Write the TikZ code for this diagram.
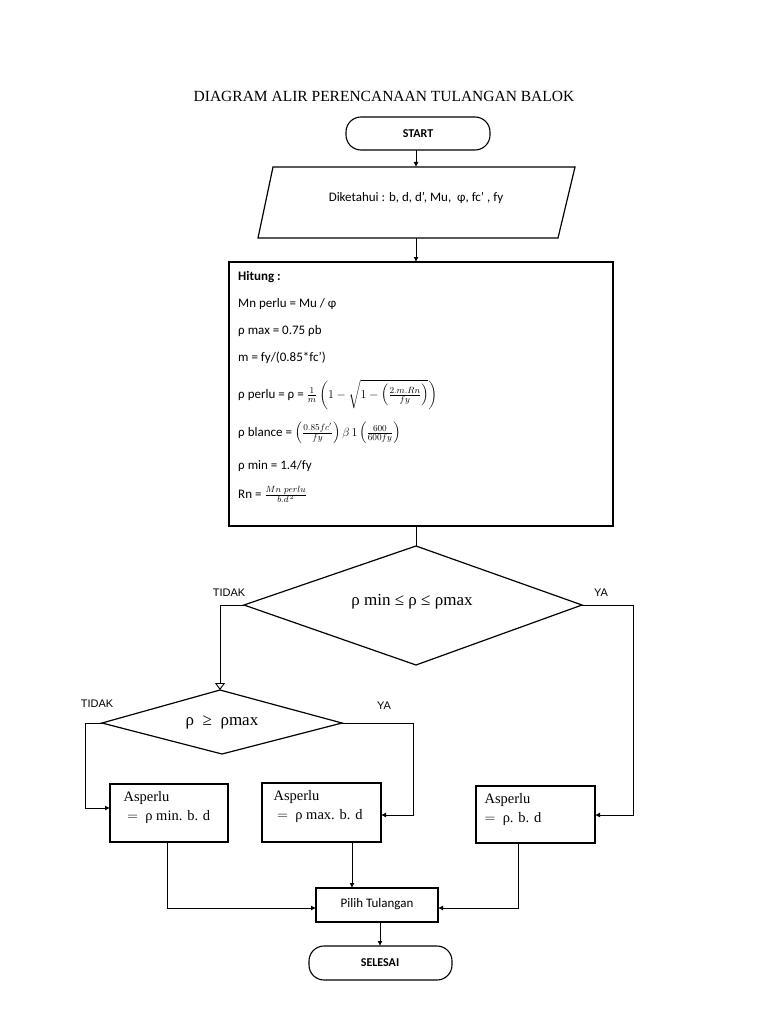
\documentclass[tikz,border=0pt]{standalone}
\usepackage{amsmath}
\usepackage{fontspec}
\setmainfont{Carlito}
\newfontfamily\arialf{Liberation Sans}
\newfontfamily\timesf{Liberation Serif}
\usetikzlibrary{arrows.meta,shapes.geometric}
\begin{document}
\begin{tikzpicture}[x=1pt,y=-1pt,
  box/.style={draw,line width=1.2pt,inner sep=0pt},
  term/.style={draw,line width=1.1pt,rounded corners=15pt},
  arr/.style={line width=0.9pt,-{Latex[length=5pt,width=5pt]}},
  ln/.style={line width=0.9pt},
  yn/.style={font=\arialf\fontsize{11}{13}\selectfont},
  hl/.style={anchor=base west,inner sep=0pt,font=\fontsize{13}{15}\selectfont},
  asp/.style={anchor=north west,font=\timesf\fontsize{14.5}{19}\selectfont,align=left}]
\useasboundingbox (0,0) rectangle (768,1024);
\node[font=\timesf\fontsize{15.5}{18}\selectfont] (title) at (384,96) {DIAGRAM ALIR PERENCANAAN TULANGAN BALOK};
\draw[term] (346,117) rectangle (490,150);
\node[font=\fontsize{12}{14}\selectfont\bfseries] (start) at (418,133.5) {START};
\coordinate (startb) at (416,150);
\draw[box] (273,167) -- (575,167) -- (558,238) -- (258,238) -- cycle;
\node[font=\fontsize{13}{15}\selectfont] (in) at (416,198) {Diketahui : b, d, d’, Mu,\ \ φ, fc’ , fy};
\coordinate (int) at (416,167);
\coordinate (inb) at (416,238);
\draw[arr] (startb) -- (int);
\draw[box] (229,262) rectangle (613,526);
\coordinate (ht) at (416,262);
\coordinate (hb) at (416,526);
\draw[arr] (inb) -- (ht);
\node[hl] (h1) at (238,280) {\textbf{Hitung :}};
\node[hl] (h2) at (238,307) {Mn perlu = Mu / φ};
\node[hl] (h3) at (238,334) {ρ max = 0.75 ρb};
\node[hl] (h4) at (238,361) {m = fy/(0.85*fc’)};
\node[hl] (h5) at (238,398) {ρ perlu = ρ = $\frac{1}{m}\left(1-\sqrt{1-\left(\frac{2.m.Rn}{fy}\right)}\right)$};
\node[hl] (h6) at (238,436) {ρ blance = $\left(\frac{0.85fc'}{fy}\right)\beta\,1\left(\frac{600}{600fy}\right)$};
\node[hl] (h7) at (238,469) {ρ min = 1.4/fy};
\node[hl] (h8) at (238,498) {Rn = $\frac{Mn\ perlu}{b.d^{\,2}}$};
\draw[box] (416,546) -- (582,605) -- (416,665) -- (244,605) -- cycle;
\coordinate (d1t) at (416,546);
\coordinate (d1l) at (244,605);
\coordinate (d1r) at (582,605);
\node[font=\timesf\fontsize{17}{19}\selectfont] (d1) at (412,602) {ρ min ≤ ρ ≤ ρmax};
\draw[ln] (hb) -- (d1t);
\node[yn] (t1) at (229,593) {TIDAK};
\node[yn] (y1) at (601,593) {YA};
\draw[box] (220,690) -- (342,723) -- (222,754) -- (102,723) -- cycle;
\coordinate (d2t) at (220,690);
\coordinate (d2l) at (102,723);
\coordinate (d2r) at (342,723);
\node[font=\timesf\fontsize{17}{19}\selectfont] (d2) at (222,722) {ρ \ ≥\ \ ρmax};
\node[yn] (t2) at (97,704) {TIDAK};
\node[yn] (y2) at (384,706) {YA};
\draw[ln,-{Triangle[open,length=7pt,width=10pt]}] (d1l) -- (220,605) -- (d2t);
\draw[box] (110,784) rectangle (228,842);
\draw[box] (262,783) rectangle (381,842);
\draw[box] (476,786) rectangle (595,843);
\node[asp] (a1) at (120,788) {Asperlu\\\ $=$\ \ ρ min. b. d};
\node[asp] (a2) at (270,787) {Asperlu\\\ $=$\ \ ρ max. b. d};
\node[asp] (a3) at (481,790) {Asperlu\\$=$\ \ ρ. b. d};
\draw[arr] (d2l) -- (85,723) -- (85,808) -- (110,808);
\draw[arr] (d2r) -- (413,723) -- (413,815) -- (381,815);
\draw[arr] (d1r) -- (633,605) -- (633,815) -- (595,815);
\draw[box] (316,888) rectangle (438,922);
\node[font=\fontsize{13}{15}\selectfont] (pil) at (377,904) {Pilih Tulangan};
\draw[arr] (167,842) -- (167,908) -- (316,908);
\draw[arr] (352,842) -- (352,888);
\draw[arr] (518,843) -- (518,908) -- (438,908);
\draw[arr] (380,922) -- (380,946);
\draw[term] (309,946) rectangle (452,980);
\node[font=\fontsize{12}{14}\selectfont\bfseries] (sel) at (380,963) {SELESAI};
\end{tikzpicture}
\end{document}
